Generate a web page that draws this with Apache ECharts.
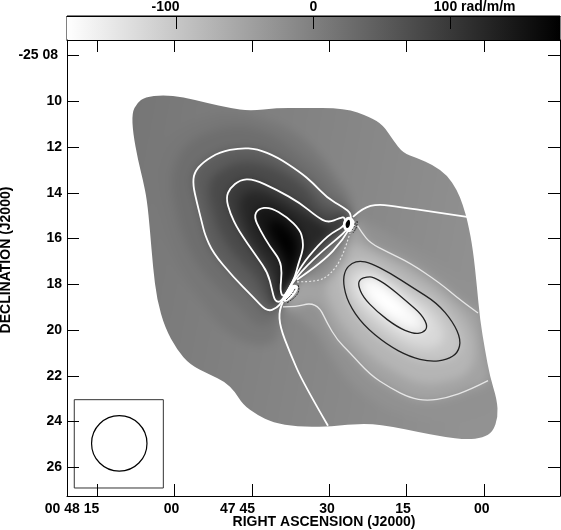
<!DOCTYPE html>
<html>
<head>
<meta charset="utf-8">
<title>Rotation measure map</title>
<script src="https://cdn.jsdelivr.net/npm/echarts@6/dist/echarts.min.js"></script>
<style>
html, body { margin: 0; padding: 0; background: #fff; overflow: hidden; }
#shade, #main { position: absolute; left: 0; top: 0; width: 561px; height: 530px; }
/* the shade steps sit in their own layer and get melted together here */
#shade { filter: blur(5px); }
</style>
</head>
<body>
<div id="shade"></div>
<div id="main"></div>
<script>
// x = seconds of RA after 00 48 15, y = arcmin of declination south of -25 00
var raTicks = [0, 15, 30, 45, 60, 75];
var raLabelAt = [-4.84, 14.44, 27.23, 44.57, 59.3, 74.55];
var raLabels = ['00 48 15', '00', '47 45', '30', '15', '00'];
var decTicks = [8, 10, 12, 14, 16, 18, 20, 22, 24, 26];
var decLabels = ['-25 08 ', '10', '12', '14', '16', '18', '20', '22', '24', '26'];
var barTicks = [-100, 0, 100];
var barLabelAt = [-108, 0, 117.7];
var barLabels = ['-100', '0', '100 rad/m/m'];
var barRange = [-180, 180];

// edge of the source
var outline = [[6.78,10.51],[7.75,10.07],[9.3,9.81],[12.79,9.72],[16.67,9.81],[21.32,10.07],[25.78,10.29],[29.65,10.42],[34.88,10.29],[39.34,10.29],[48.06,10.29],[52.91,10.69],[55.43,11.04],[57.36,11.69],[59.3,12.26],[62.02,12.48],[65.12,12.78],[67.83,13.22],[69.77,13.87],[70.93,14.53],[71.9,15.31],[72.87,16.49],[73.64,18.11],[74.23,19.55],[75.19,20.86],[76.16,22.04],[77.52,23.04],[77.71,23.79],[76.74,24.44],[74.81,24.7],[71.71,24.79],[67.05,24.66],[62.02,24.44],[57.36,24.22],[52.91,24.09],[48.45,24.13],[44.57,24.22],[38.76,24.22],[34.11,24.05],[31.01,23.7],[28.29,23.26],[26.74,22.69],[24.81,22.26],[21.9,21.95],[18.02,21.52],[15.5,20.86],[13.18,19.9],[11.63,18.68],[10.85,17.24],[10.27,15.62],[9.69,14.31],[8.91,13.44],[7.95,12.56],[6.98,11.38]];

// drawn contours
var plus150 = [[36.05,18.59],[35.47,18.24],[35.85,17.5],[35.47,16.93],[33.53,16.36],[31.59,15.62],[30.43,15.05],[31.2,14.7],[33.53,14.62],[36.82,15.05],[39.34,15.62],[39.92,16.06],[39.92,16.49],[38.95,17.15],[38.37,17.67],[37.4,18.11]];
var plus100 = [[48.06,15.05],[47.09,15.1],[44.77,15.31],[42.64,15.05],[39.34,14.44],[34.88,13.87],[30.23,13.39],[27.71,13.44],[25.78,13.79],[25,14.22],[25.78,14.88],[27.33,15.62],[31.01,16.8],[33.14,17.5],[33.92,18.24],[34.5,18.76],[35.85,18.76],[38.76,17.5],[40.89,16.8],[44.77,15.84],[48.06,15.45]];
var plus50 = [[49.42,14.92],[47.67,14.62],[44.57,14.22],[41.86,13.57],[39.34,13.09],[34.88,12.43],[31.01,12.08],[27.71,12.04],[23.84,12.21],[20.54,12.65],[18.8,13.13],[18.6,13.66],[19.38,14.44],[20.35,15.31],[20.93,15.84],[22.48,16.62],[26.36,17.67],[30.23,18.55],[32.95,19.2],[34.88,19.03],[35.85,18.76],[38.37,17.72],[43.22,16.62],[47.48,15.84],[48.84,15.49]];
var zeroUpper = [[49.61,15.05],[51.55,14.66],[54.46,14.49],[58.72,14.62],[65.12,14.83],[71.71,15.05]];
var zeroLower = [[36.05,18.76],[35.27,19.11],[35.47,19.86],[37.4,20.99],[39.92,22.3],[44.77,24.18]];
var zeroLens = [[38.76,17.8],[43.8,17.02],[47.67,16.06],[49.03,15.53]];
var minus50Upper = [[50.39,15.4],[51.36,15.75],[52.91,16.19],[56.2,16.58],[60.66,17.06],[66.47,17.94],[70.35,18.68],[73.84,19.25]];
var minus50Edge = [[74.23,19.55],[75.19,20.86]];
var minus50Lower = [[75.78,22.21],[72.29,22.61],[67.83,22.96],[63.95,23.09],[60.66,22.96],[56.78,22.52],[52.91,21.95],[49.03,20.99],[46.51,20.42],[44.57,19.68],[43.22,19.03],[41.28,18.81],[38.76,18.98],[36.05,18.98]];
var minus50Lens = [[38.76,17.89],[42.64,17.89],[45.16,17.59],[47.67,16.8],[49.03,15.75]];
var minus100 = [[49.42,17.06],[50.97,16.97],[52.91,17.06],[56.78,17.5],[61.24,18.15],[65.89,18.81],[68.99,19.64],[70.54,20.42],[69.96,20.99],[67.83,21.3],[64.54,21.38],[60.66,21.17],[56.2,20.64],[51.55,19.77],[48.64,18.81],[47.67,17.94],[48.06,17.37]];
var minus150 = [[50.97,17.76],[52.33,17.67],[53.49,17.67],[56.2,18.02],[60.08,18.76],[62.99,19.33],[64.15,19.86],[63.18,20.12],[61.24,20.16],[58.14,19.86],[54.26,19.2],[51.55,18.55],[50.58,18.02]];

// extra shade steps read between the contours
var plus12 = [[49.42,14.53],[46.12,13.22],[42.25,12.13],[37.4,11.25],[31.59,10.73],[26.74,10.51],[20.93,10.73],[15.12,11.47],[12.21,12.56],[11.63,13.66],[12.6,14.97],[13.76,16.06],[16.09,17.37],[19.96,18.68],[24.81,19.99],[30.62,20.64],[34.5,20.42],[36.05,19.11],[38.76,17.85],[43.61,16.93],[48.06,16.06]];
var plus25 = [[49.03,14.83],[46.12,13.87],[42.83,13],[39.34,12.35],[35.47,11.69],[31.2,11.25],[26.74,11.12],[21.9,11.34],[17.44,11.91],[15.12,12.78],[14.54,13.66],[15.31,14.75],[16.67,15.84],[18.99,16.93],[22.87,18.02],[27.71,19.03],[31.2,19.77],[33.92,19.64],[35.85,18.89],[38.57,17.8],[43.61,16.84],[47.87,15.97]];
var plus75 = [[48.06,14.83],[46.12,14.83],[43.61,14.66],[40.31,13.79],[36.43,13.18],[31.59,12.74],[27.71,12.69],[24.23,13],[22.09,13.44],[21.71,14.09],[22.48,14.83],[23.84,15.71],[26.74,16.71],[30.62,17.67],[32.56,18.46],[33.92,18.94],[35.85,18.76],[38.57,17.72],[43.22,16.71],[47.09,15.71],[48.64,15.45]];
var plus125 = [[47.48,15.45],[45.16,15.58],[42.83,15.27],[39.34,14.83],[35.47,14.31],[31.98,13.96],[29.07,14],[27.71,14.44],[28.29,15.18],[29.65,16.06],[32.56,17.02],[34.3,17.8],[35.08,18.68],[36.05,18.68],[38.76,17.54],[41.28,16.76],[44.77,15.88]];
var plus170 = [[33.53,15.27],[35.47,15.27],[37.98,15.84],[38.76,16.41],[37.79,17.28],[37.02,17.89],[36.63,17.59],[36.82,16.93],[35.08,16.28],[33.53,15.71]];
var plus178 = [[35.47,15.71],[37.4,16.06],[37.6,16.71],[37.02,17.28],[36.43,16.71],[35.47,16.14]];
var minus25 = [[49.81,15.1],[53.3,15.4],[57.75,15.97],[63.57,16.71],[69.38,17.59],[73.45,18.33],[74.23,19.55],[75.19,20.86],[76.16,22.04],[77.13,23.26],[72.29,23.92],[66.47,24],[62.02,23.83],[57.75,23.57],[53.88,23.13],[49.03,22.26],[45.16,21.08],[42.83,20.21],[40.31,19.64],[37.4,19.2],[36.24,18.85],[38.76,17.85],[43.22,17.37],[46.32,16.58],[48.84,15.62]];
var minus75 = [[49.42,16.28],[51.94,16.41],[55.81,16.84],[61.05,17.5],[67.44,18.55],[71.9,19.68],[73.26,20.86],[71.9,21.82],[67.44,22.26],[62.6,22.3],[57.75,21.82],[52.91,21.08],[48.06,19.9],[45.16,18.81],[44.38,18.15],[45.74,17.59],[48.06,16.93]];
var minus125 = [[49.23,17.67],[50.58,17.37],[52.91,17.37],[56.4,17.8],[60.66,18.46],[64.54,19.11],[66.86,19.86],[67.05,20.42],[65.5,20.73],[62.6,20.77],[59.3,20.51],[55.23,19.9],[51.36,19.11],[49.42,18.46],[48.84,18.02]];
var minus165 = [[51.9,17.85],[53.88,17.85],[57.3,18.4],[60.9,19.05],[62.6,19.7],[60.66,19.88],[57.6,19.55],[54.3,18.98],[51.9,18.4]];
var minus178 = [[53.5,18.13],[55.81,18.36],[59.1,19.06],[59,19.4],[57.4,19.3],[54.5,18.85]];

// the two small spots on the ridge
var lowerWhite = [[38.37,18.02],[38.95,18.11],[38.37,18.42],[37.21,18.68],[36.24,18.76],[36.05,18.63],[36.82,18.28],[37.6,18.07]];
var upperWhite = [[48.84,15.05],[49.61,15.14],[50,15.36],[49.61,15.62],[48.64,15.71],[47.87,15.58],[47.67,15.36],[48.06,15.14]];
var upperBlack = [[48.84,15.18],[49.03,15.36],[48.64,15.53],[48.26,15.49],[48.26,15.31]];
var lowerArcOuter = [[38.95,18.02],[39.34,18.24],[38.37,18.59],[36.82,18.81]];
var lowerArcInner = [[38.37,18.2],[37.79,18.46],[36.63,18.68]];
var upperArcOuter = [[50.39,15.23],[50.58,15.49],[49.61,15.75]];
var upperArcInner = [[50,15.31],[50,15.53],[49.23,15.66]];

// beam inset
var beamBox = [[-4.4,23.04],[12.86,23.04],[12.86,26.9],[-4.4,26.9],[-4.4,23.04]];
var beamCircle = [4.32, 24.95, 5.37];

var FONT = '"Liberation Sans", Arial, sans-serif';
var X_MIN = -5.81, X_MAX = 89.73, Y_MIN = 7.32, Y_MAX = 27.25;

function grayOf(v) {
    var g = Math.round(255 * (180 - v) / 360);
    return 'rgb(' + g + ',' + g + ',' + g + ')';
}

var bands = [
    [12, plus12], [25, plus25], [50, plus50], [75, plus75], [100, plus100],
    [125, plus125], [150, plus150], [175, plus170], [180, plus178],
    [-25, minus25],
    [-50, minus50Upper.concat(minus50Edge, minus50Lower, minus50Lens)],
    [-75, minus75], [-100, minus100], [-125, minus125], [-150, minus150],
    [-172, minus165], [-180, minus178]
];

var lines = [
    { pts: plus150, loop: true, color: '#fff', width: 1.8 },
    { pts: plus100, loop: true, color: '#fff', width: 1.8 },
    { pts: plus50, loop: true, color: '#fff', width: 1.8 },
    { pts: zeroUpper, color: '#fff', width: 1.8 },
    { pts: zeroLower, color: '#fff', width: 1.8 },
    { pts: zeroLens, color: '#fff', width: 1.8 },
    { pts: minus50Upper, color: '#e6e6e6', width: 1.3 },
    { pts: minus50Lower, color: '#e6e6e6', width: 1.3 },
    { pts: minus50Lens, color: '#e8e8e8', width: 1.1, dash: [2, 2] },
    { pts: minus100, loop: true, color: '#222', width: 1.3 },
    { pts: minus150, loop: true, color: '#222', width: 1.3 }
];
var arcs = [
    { pts: lowerArcOuter, color: '#222', width: 1, dash: [2, 1] },
    { pts: lowerArcInner, color: '#222', width: 1, dash: [2, 1] },
    { pts: upperArcOuter, color: '#222', width: 1, dash: [2, 1] },
    { pts: upperArcInner, color: '#222', width: 1, dash: [2, 1] }
];

function mid(u, v) { return ((u[0] + v[0]) / 2) + ' ' + ((u[1] + v[1]) / 2); }

// rounded path through the read points
function curve(p, loop) {
    var n = p.length, i, d;
    if (loop) {
        d = 'M' + mid(p[n - 1], p[0]);
        for (i = 0; i < n; i++) {
            d += 'Q' + p[i][0] + ' ' + p[i][1] + ' ' + mid(p[i], p[(i + 1) % n]);
        }
        return d + 'Z';
    }
    d = 'M' + p[0][0] + ' ' + p[0][1];
    for (i = 1; i < n - 1; i++) {
        d += 'Q' + p[i][0] + ' ' + p[i][1] + ' ' + (i === n - 2 ? p[n - 1][0] + ' ' + p[n - 1][1] : mid(p[i], p[i + 1]));
    }
    if (n === 2) d += 'L' + p[1][0] + ' ' + p[1][1];
    return d;
}

function lineRenderer(list) {
    return function (params, api) {
        var c = list[params.dataIndex];
        var p = c.pts.map(function (q) { return api.coord(q); });
        return {
            type: 'path',
            shape: { pathData: curve(p, c.loop) },
            style: { fill: 'none', stroke: c.color, lineWidth: c.width, lineDash: c.dash || null }
        };
    };
}

function baseFill() {
    return new echarts.graphic.LinearGradient(0, 0, 1, 0.2, [
        { offset: 0, color: 'rgb(116,116,116)' },
        { offset: 1, color: 'rgb(146,146,146)' }
    ]);
}

function renderMap(params, api) {
    var pts = function (a) { return a.map(function (p) { return api.coord(p); }); };
    // stroke runs past the edge so the blur does not fade into the white
    var children = [{
        type: 'polygon',
        shape: { points: pts(outline), smooth: 0.3 },
        style: { fill: baseFill(), stroke: baseFill(), lineWidth: 40, lineJoin: 'round' }
    }];
    bands.forEach(function (b) {
        children.push({
            type: 'polygon',
            shape: { points: pts(b[1]), smooth: 0.4 },
            style: { fill: grayOf(b[0]) }
        });
    });
    return { type: 'group', children: children };
}

// white sheet over the plot area with a hole the shape of the source
function renderMask(params, api) {
    var p = outline.map(function (q) { return api.coord(q); });
    var a = api.coord([X_MIN, Y_MIN]), b = api.coord([X_MAX, Y_MAX]);
    var d = 'M' + a[0] + ' ' + a[1] + 'L' + a[0] + ' ' + b[1] + 'L' + b[0] + ' ' + b[1] + 'L' + b[0] + ' ' + a[1] + 'Z';
    d += curve(p, true);
    return { type: 'path', shape: { pathData: d }, style: { fill: '#fff' } };
}

function renderSpots(params, api) {
    var pts = function (a) { return a.map(function (p) { return api.coord(p); }); };
    return {
        type: 'group',
        children: [
            { type: 'polygon', shape: { points: pts(lowerWhite), smooth: 0.4 }, style: { fill: '#fff' } },
            { type: 'polygon', shape: { points: pts(upperWhite), smooth: 0.4 }, style: { fill: '#fff' } },
            { type: 'polygon', shape: { points: pts(upperBlack), smooth: 0.4 }, style: { fill: '#000' } }
        ]
    };
}

function renderBar(params, api) {
    var a = api.coord([barRange[0], 1]), b = api.coord([barRange[1], 0]);
    return {
        type: 'rect',
        shape: { x: a[0], y: a[1], width: b[0] - a[0], height: b[1] - a[1] },
        style: {
            fill: new echarts.graphic.LinearGradient(0, 0, 1, 0, [
                { offset: 0, color: '#fff' },
                { offset: 1, color: '#000' }
            ])
        }
    };
}

function renderBeam(params, api) {
    var c = api.coord([beamCircle[0], beamCircle[1]]);
    var r = api.size([beamCircle[2], 0])[0];
    return {
        type: 'circle',
        shape: { cx: c[0], cy: c[1], r: r },
        style: { fill: 'none', stroke: '#000', lineWidth: 1.2 }
    };
}

var axisLine = { show: true, onZero: false, lineStyle: { color: '#000', width: 1 } };
var labelStyle = { color: '#000', fontFamily: FONT, fontWeight: 'bold', fontSize: 14 };

// under layer, same plot box, no axes drawn
var shade = echarts.init(document.getElementById('shade'), null, { renderer: 'canvas' });
shade.setOption({
    animation: false,
    grid: { left: 67, top: 40, width: 493, height: 456 },
    xAxis: { type: 'value', min: X_MIN, max: X_MAX, show: false },
    yAxis: { type: 'value', inverse: true, min: Y_MIN, max: Y_MAX, show: false },
    series: [{ type: 'custom', clip: false, data: [[40, 16]], renderItem: renderMap, silent: true }]
});

var option = {
    animation: false,
    grid: [
        { left: 67, top: 40, width: 493, height: 456 },
        { left: 67, top: 16, width: 493, height: 24, show: true, borderColor: '#000', borderWidth: 1, backgroundColor: 'transparent' }
    ],
    xAxis: [
        {
            type: 'value', gridIndex: 0, position: 'bottom', min: X_MIN, max: X_MAX, z: 10,
            axisLine: axisLine, splitLine: { show: false },
            axisTick: { inside: true, length: 12, customValues: raTicks, lineStyle: { color: '#000' } },
            axisLabel: Object.assign({
                customValues: raLabelAt, margin: 6, hideOverlap: false,
                formatter: function (v) { return raLabels[raLabelAt.indexOf(v)]; }
            }, labelStyle)
        },
        {
            type: 'value', gridIndex: 0, position: 'top', min: X_MIN, max: X_MAX, z: 10,
            axisLine: axisLine, splitLine: { show: false },
            axisTick: { inside: true, length: 12, customValues: raTicks, lineStyle: { color: '#000' } },
            axisLabel: { show: false }
        },
        {
            type: 'value', gridIndex: 1, position: 'top', min: barRange[0], max: barRange[1], z: 10,
            axisLine: axisLine, splitLine: { show: false },
            axisTick: { inside: true, length: 13, customValues: barTicks, lineStyle: { color: '#000' } },
            axisLabel: Object.assign({
                customValues: barLabelAt, margin: 2, hideOverlap: false,
                formatter: function (v) { return barLabels[barLabelAt.indexOf(v)]; }
            }, labelStyle)
        }
    ],
    yAxis: [
        {
            type: 'value', gridIndex: 0, position: 'left', inverse: true, min: Y_MIN, max: Y_MAX, z: 10,
            axisLine: axisLine, splitLine: { show: false },
            axisTick: { inside: true, length: 12, customValues: decTicks, lineStyle: { color: '#000' } },
            axisLabel: Object.assign({
                customValues: decTicks, margin: 5, hideOverlap: false,
                formatter: function (v) { return decLabels[decTicks.indexOf(v)]; }
            }, labelStyle)
        },
        {
            type: 'value', gridIndex: 0, position: 'right', inverse: true, min: Y_MIN, max: Y_MAX, z: 10,
            axisLine: axisLine, splitLine: { show: false },
            axisTick: { inside: true, length: 12, customValues: decTicks, lineStyle: { color: '#000' } },
            axisLabel: { show: false }
        },
        {
            type: 'value', gridIndex: 1, min: 0, max: 1, show: false
        }
    ],
    graphic: [
        { type: 'text', x: 324, y: 522, style: { text: 'RIGHT ASCENSION (J2000)', fill: '#000', font: 'bold 14px ' + FONT, textAlign: 'center', textVerticalAlign: 'middle' } },
        { type: 'text', x: 6, y: 260, rotation: Math.PI / 2, style: { text: 'DECLINATION (J2000)', fill: '#000', font: 'bold 14px ' + FONT, textAlign: 'center', textVerticalAlign: 'middle' } }
    ],
    series: [
        { type: 'custom', xAxisIndex: 2, yAxisIndex: 2, data: [[0, 0.5]], renderItem: renderBar, silent: true, z: 1 },
        { type: 'custom', xAxisIndex: 0, yAxisIndex: 0, data: [[40, 16]], renderItem: renderMask, silent: true, z: 2 },
        {
            type: 'custom', xAxisIndex: 0, yAxisIndex: 0, silent: true, z: 3,
            data: lines.map(function (c) { return c.pts[0]; }), renderItem: lineRenderer(lines)
        },
        { type: 'custom', xAxisIndex: 0, yAxisIndex: 0, data: [[40, 16]], renderItem: renderSpots, silent: true, z: 4 },
        {
            type: 'custom', xAxisIndex: 0, yAxisIndex: 0, silent: true, z: 5,
            data: arcs.map(function (c) { return c.pts[0]; }), renderItem: lineRenderer(arcs)
        },
        {
            name: 'beam box', type: 'line', xAxisIndex: 0, yAxisIndex: 0, data: beamBox,
            showSymbol: false, silent: true, z: 6, lineStyle: { color: '#333', width: 1 }
        },
        { type: 'custom', xAxisIndex: 0, yAxisIndex: 0, data: [beamCircle], renderItem: renderBeam, silent: true, z: 6 }
    ]
};

var chart = echarts.init(document.getElementById('main'), null, { renderer: 'canvas' });
chart.setOption(option);
</script>
</body>
</html>
